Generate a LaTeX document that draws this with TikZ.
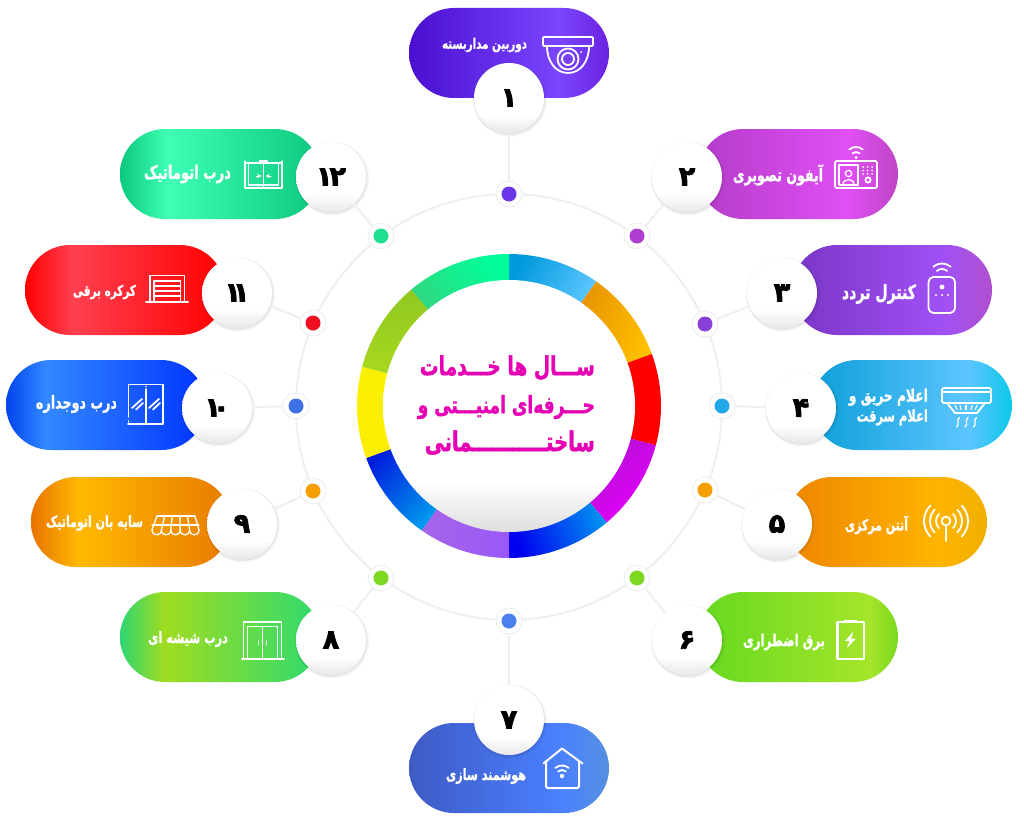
\documentclass[tikz,border=0pt]{standalone}
\usepackage{fontspec}
\usepackage{graphicx}
\usetikzlibrary{shapes.misc}
\newfontfamily\arabicfont[Script=Arabic,BoldFeatures={FakeBold=1.2}]{DejaVu Sans}
\newfontfamily\heavyfont[Script=Arabic,BoldFeatures={FakeBold=3}]{DejaVu Sans}
\newfontfamily\titlefont[Script=Arabic,BoldFeatures={FakeBold=1.5}]{DejaVu Sans}
\TeXXeTstate=1
% scale to a width, #2 taller than the natural proportion
\newcommand\lbl[2]{\resizebox{#1pt}{!}{\scalebox{1}[1.4]{\arabicfont\bfseries #2}}}
\newcommand\ttl[2]{\resizebox{#1pt}{!}{\scalebox{1}[1.4]{\titlefont\bfseries #2}}}
% pill gradient: id, left, peak, right, peak position (25bp..75bp)
\newcommand\pillgrad[5]{%
  \definecolor{pa#1}{HTML}{#2}\definecolor{pb#1}{HTML}{#3}\definecolor{pc#1}{HTML}{#4}%
  \pgfdeclarehorizontalshading{pill#1}{100bp}{color(0bp)=(pa#1);color(25bp)=(pa#1);color(#5)=(pb#1);color(75bp)=(pc#1);color(100bp)=(pc#1)}}
\pillgrad{1}{4A0FCF}{7B45FF}{6A22E0}{62.5bp}
\pillgrad{2}{B33CC9}{E04FF5}{BF45C5}{62.5bp}
\pillgrad{3}{7A35C5}{A050F5}{B050D0}{62.5bp}
\pillgrad{4}{0E9FD8}{5CC5FF}{0CC8E8}{64bp}
\pillgrad{5}{EE8500}{FFB400}{F0B000}{62.5bp}
\pillgrad{6}{65D920}{A5E52B}{78D91F}{68bp}
\pillgrad{7}{3E5AC4}{4A80FF}{5590E0}{62.5bp}
\pillgrad{8}{2ED573}{A0DC20}{2EDA70}{36bp}
\pillgrad{9}{E87300}{FFB900}{E87A00}{37bp}
\pillgrad{10}{0044EE}{3388FF}{0033FF}{35bp}
\pillgrad{11}{FF0000}{FF4050}{FF0000}{37bp}
\pillgrad{12}{0CC87E}{3EFFB5}{0CC87E}{37bp}
\definecolor{gr1}{HTML}{E8E8E8}
\pgfdeclareverticalshading{numdisc}{100bp}{color(0bp)=(gr1);color(25bp)=(gr1);color(38bp)=(white);color(100bp)=(white)}
\definecolor{gr3}{HTML}{DEDEDE}
\pgfdeclareverticalshading{coredisc}{100bp}{color(0bp)=(gr3);color(25bp)=(gr3);color(35bp)=(white);color(100bp)=(white)}
\definecolor{linegray}{HTML}{EFEFEF}
\definecolor{titlepink}{HTML}{E600B4}
% ring segment: clockwise angles from the top
\newcommand\ringseg[5]{%
  \pgfmathsetmacro\aS{90-#1}\pgfmathsetmacro\aE{90-#2}%
  \begin{scope}[shift={(509,406)},y=1pt]
    \shade[bottom color=#3,top color=#4,shading angle=#5]
      (\aS:152) arc[start angle=\aS,end angle=\aE,radius=152]
      -- (\aE:120) arc[start angle=\aE,end angle=\aS,radius=120] -- cycle;
  \end{scope}}
\newcommand\wifiarcs[4]{%
  \begin{scope}[shift={(#1,#2)},y=1pt]
    \foreach \rr in {#3,#4}{\draw[ico] (50:\rr) arc[start angle=50,end angle=130,radius=\rr];}
  \end{scope}}
\tikzset{
  pillbox/.style={rounded rectangle,inner sep=0pt,minimum width=200pt,minimum height=90pt},
  numdiscn/.style={circle,inner sep=0pt,minimum size=70pt,shading=numdisc,
    font=\heavyfont\bfseries\fontsize{27}{27}\selectfont,text=black},
  halo/.style={circle,inner sep=0pt,minimum size=26pt,fill=white,draw=linegray,line width=1pt},
  pip/.style={circle,inner sep=0pt,minimum size=15pt,fill=#1},
  wire/.style={draw=linegray,line width=2pt},
  lab/.style={text=white,inner sep=0pt},
  ico/.style={draw=white,line width=1.8pt,line join=round,line cap=round},
}
\begin{document}
\begin{tikzpicture}[x=1pt,y=-1pt]
\useasboundingbox (0,0) rectangle (1024,824);
\fill[white] (0,0) rectangle (1024,824);
% orbit
\node[circle,draw=linegray,line width=2pt,inner sep=0pt,minimum size=426pt] (orbit) at (509,407) {};
% pills
\foreach \i/\x/\y in {1/509/53,2/798/174,3/892/290,4/912/405,5/887/522,6/798/637,7/509/768,8/220/637,9/131/522,10/106/405,11/125/290,12/220/174}{
  \node[pillbox,shading=pill\i] (p\i) at (\x,\y) {};
}
% number discs
\foreach \i/\x/\y/\t in {1/509/98/۱,2/687/177/۲,3/782/293/۳,4/801/408/۴,5/777/524/۵,6/687/640/۶,7/509/720/۷,8/331/640/۸,9/242/524/۹,10/217/408/۱\kern-8pt ۰,11/237/293/۱\kern-8pt ۱,12/331/177/۱\kern-3pt ۲}{
  \fill[black,opacity=.04] (\x+1,\y+1.5) circle (37);
  \fill[black,opacity=.06] (\x+.5,\y+1) circle (36);
  \node[numdiscn] (n\i) at (\x,\y) {\t};
}
% dots
\foreach \i/\x/\y/\c in {1/509/194/6B35E8,2/637/236/B03CD0,3/705/324/8840D8,4/722/406/20A8E8,5/705/490/F5A000,6/637/578/7FD820,7/509/621/4A80F0,8/381/578/7FD820,9/313/491/F5A000,10/296/406/3F70E8,11/313/323/F01020,12/381/236/20E090}{
  \definecolor{dotc}{HTML}{\c}
  \node[halo] (d\i) at (\x,\y) {};
  \node[pip=dotc] (q\i) at (\x,\y) {};
}
% connectors
\foreach \i in {1,...,12}{ \draw[wire] (n\i) -- (d\i); }
% ring
\definecolor{rA}{HTML}{0099DD}\definecolor{rB}{HTML}{5BC5FF}
\definecolor{rC}{HTML}{E89400}\definecolor{rD}{HTML}{FFC000}
\definecolor{rE}{HTML}{FF0000}\definecolor{rF}{HTML}{B010D0}
\definecolor{rG}{HTML}{E600FF}\definecolor{rH}{HTML}{0000F0}
\definecolor{rI}{HTML}{0090F0}\definecolor{rJ}{HTML}{A565E8}
\definecolor{rK}{HTML}{9A58F8}\definecolor{rL}{HTML}{0020E0}
\definecolor{rM}{HTML}{0099EE}\definecolor{rN}{HTML}{FFEE00}
\definecolor{rO}{HTML}{F8F000}\definecolor{rP}{HTML}{A8D820}
\definecolor{rQ}{HTML}{90C820}\definecolor{rR}{HTML}{2FD880}
\definecolor{rS}{HTML}{00FF9C}
\ringseg{0}{35}{rA}{rB}{-120}
\ringseg{35}{70}{rC}{rD}{-110}
\ringseg{70}{105}{rE}{rE}{0}
\ringseg{105}{140}{rF}{rG}{-135}
\ringseg{140}{180}{rH}{rI}{-70}
\ringseg{180}{215}{rJ}{rK}{-90}
\ringseg{215}{250}{rL}{rM}{-135}
\ringseg{250}{285}{rN}{rO}{0}
\ringseg{285}{320}{rP}{rQ}{0}
\ringseg{320}{360}{rR}{rS}{-45}
\node[circle,inner sep=0pt,minimum size=252pt,shading=coredisc] (core) at (509,406) {};
\node[anchor=east,align=right,inner sep=0pt,text=titlepink,font=\fontsize{21}{38}\selectfont] (title) at (595,405)
 {\ttl{175}{\beginR ســـال ها خـــدمات\endR}\\\ttl{177}{\beginR حـــرفه‌ای امنیـــتی و\endR}\\\ttl{170}{\beginR ساختـــــــــــمانی\endR}};
% labels
\node[lab] (l1) at (484.5,45) {\lbl{85}{\beginR دوربین مداربسته\endR}};
\node[lab] (l2) at (778,175) {\lbl{90}{\beginR آیفون تصویری\endR}};
\node[lab] (l3) at (879,294) {\lbl{74}{\beginR کنترل تردد\endR}};
\node[lab,anchor=east,align=right,font=\fontsize{10}{20}\selectfont] (l4) at (928,407) {\lbl{79}{\beginR اعلام حریق و\endR}\\\lbl{71}{\beginR اعلام سرقت\endR}};
\node[lab] (l5) at (876.5,525) {\lbl{63}{\beginR آنتن مرکزی\endR}};
\node[lab] (l6) at (784,642) {\lbl{82}{\beginR برق اضطراری\endR}};
\node[lab] (l7) at (486,776) {\lbl{80}{\beginR هوشمند سازی\endR}};
\node[lab] (l8) at (188,639) {\lbl{80}{\beginR درب شیشه ای\endR}};
\node[lab] (l9) at (94.5,523) {\lbl{97}{\beginR سایه بان اتوماتیک\endR}};
\node[lab] (l10) at (76.5,404) {\lbl{81}{\beginR درب دوجداره\endR}};
\node[lab] (l11) at (104.5,292) {\lbl{63}{\beginR کرکره برقی\endR}};
\node[lab] (l12) at (187.5,174) {\lbl{87}{\beginR درب اتوماتیک\endR}};
% icon 1: camera
\draw[ico,rounded corners=1pt] (543,37) rectangle (593,46);
\draw[ico] (547,46) .. controls (547,62) and (556,73) .. (568,73) .. controls (580,73) and (589,62) .. (589,46);
\draw[ico] (568,59) circle (10.5) (568,59) circle (6);
\fill[white] (581,52) circle (1);
% icon 2: intercom
\draw[ico,rounded corners=2pt] (835,161) rectangle (877,188);
\draw[ico] (839,165) rectangle (858,185);
\draw[ico,line width=1.3pt] (848.5,173.5) circle (3.2);
\draw[ico,line width=1.3pt] (843,184.5) .. controls (843,178) and (854,178) .. (854,184.5);
\foreach \kx in {863,867.5,872}{\foreach \ky in {167,170.5,174}{\fill[white] (\kx,\ky) circle (1);}}
\draw[ico] (868,180) circle (2.6);
\fill[white] (856,157.5) circle (1.5);
\wifiarcs{856}{157.5}{5.5}{10.5}
% icon 3: remote
\draw[ico,rounded corners=5pt] (928.5,277) rectangle (955,313);
\fill[white] (942,287) circle (2.4);
\foreach \kx in {936,942,948}{\fill[white] (\kx,295) circle (1.1);}
\wifiarcs{942}{277}{8}{13.5}
% icon 4: smoke detector
\draw[ico,rounded corners=2pt] (942,388) rectangle (991,403);
\draw[ico,line width=1.1pt] (943,392) -- (990,392);
\draw[ico] (947,403) -- (955,413) -- (977,413) -- (985,403);
\foreach \a/\b in {955/957,960/961,966/966,972/971,977/975}{\draw[ico,line width=1.1pt] (\a,405.5) -- (\b,409.5);}
\foreach \kx in {958,966.5,975}{\draw[ico,line width=1.3pt] (\kx+1.5,417.5) .. controls (\kx-2,420) and (\kx+2,424.5) .. (\kx-1.5,427);}
% icon 5: antenna
\draw[ico] (946,521) circle (4.4);
\draw[ico] (946,525.4) -- (946,541);
\begin{scope}[shift={(946,521)},y=1pt]
  \foreach \rr in {10,16,22}{
    \draw[ico] (135:\rr) arc[start angle=135,end angle=225,radius=\rr];
    \draw[ico] (-45:\rr) arc[start angle=-45,end angle=45,radius=\rr];
  }
\end{scope}
% icon 6: battery
\draw[ico,line width=2.2pt] (837.5,622) rectangle (864,659);
\fill[white] (844,619.5) rectangle (857,622);
\fill[white] (853.5,631.5) -- (845,641) -- (849.5,641) -- (847,648) -- (856,638.5) -- (851,638.5) -- cycle;
% icon 7: house
\draw[ico,line width=2pt] (543.5,763.5) -- (562,748.5) -- (582.5,763.5);
\draw[ico,line width=2pt,rounded corners=2pt] (546,761) -- (546,788) -- (579,788) -- (579,761);
\fill[white] (562,776) circle (2.2);
\wifiarcs{562}{776}{6}{10.5}
% icon 8: glass door
\draw[ico] (243.5,659) -- (243.5,622) -- (281.5,622) -- (281.5,659);
\draw[ico] (242,659) -- (284,659);
\draw[ico,line width=1.4pt] (247.5,659) -- (247.5,626.5) -- (277.5,626.5) -- (277.5,659);
\draw[ico,line width=1.4pt] (262.5,626.5) -- (262.5,659);
\draw[ico,line width=1pt,opacity=.8] (258,640) -- (258,645) (266,640) -- (266,645);
% icon 9: awning
\draw[ico,line width=1.3pt] (157,516) -- (195,516);
\draw[ico,line width=1.3pt] (152,525) -- (199,525);
\foreach \k in {0,...,5}{
  \pgfmathsetmacro\xa{157+\k*7.6}\pgfmathsetmacro\xb{152+\k*9.4}
  \draw[ico,line width=1.3pt] (\xa,516) -- (\xb,530);
}
\foreach \k in {0,...,4}{
  \pgfmathsetmacro\xb{152+\k*9.4}\pgfmathsetmacro\xc{\xb+9.4}
  \draw[ico,line width=1.3pt] (\xb,530) .. controls (\xb,536.5) and (\xc,536.5) .. (\xc,530);
}
% icon 10: double door
\draw[ico] (128.5,417) -- (128.5,384.5) -- (163,384.5) -- (163,424) -- (128,424) ;
\draw[ico] (128.5,421) -- (128.5,422);
\draw[ico] (146,389) -- (146,424);
\fill[white] (146,386.5) circle (.9);
\foreach \ox in {0,17}{
  \draw[ico] (132+\ox,408) -- (142+\ox,399);
  \draw[ico] (136+\ox,409.5) -- (143+\ox,403);
}
% icon 11: shutter
\draw[ico] (150,302) -- (150,275.5) -- (184.5,275.5) -- (184.5,302);
\draw[ico,line width=2pt] (146,302) -- (188,302);
\foreach \ky in {281,286,291,296}{\draw[ico,line width=1.7pt] (154,\ky) -- (180.5,\ky);}
\draw[ico,line width=1.1pt] (154,281) -- (154,302) (180.5,281) -- (180.5,302);
% icon 12: automatic door
\draw[ico,line width=1.3pt] (245,161) -- (245,188) -- (282,188) -- (282,161);
\draw[ico,line width=1.3pt] (245,163) -- (282,163);
\draw[ico,line width=1.2pt] (248.5,163) -- (248.5,185) -- (278.5,185) -- (278.5,163);
\draw[ico,line width=1.3pt] (263.5,163) -- (263.5,188);
\draw[ico,line width=1.1pt] (260,161) rectangle (267,163);
\draw[ico,line width=1pt,-stealth] (256,176) -- (261.5,176);
\draw[ico,line width=1pt,-stealth] (271,176) -- (265.5,176);
\end{tikzpicture}
\end{document}
